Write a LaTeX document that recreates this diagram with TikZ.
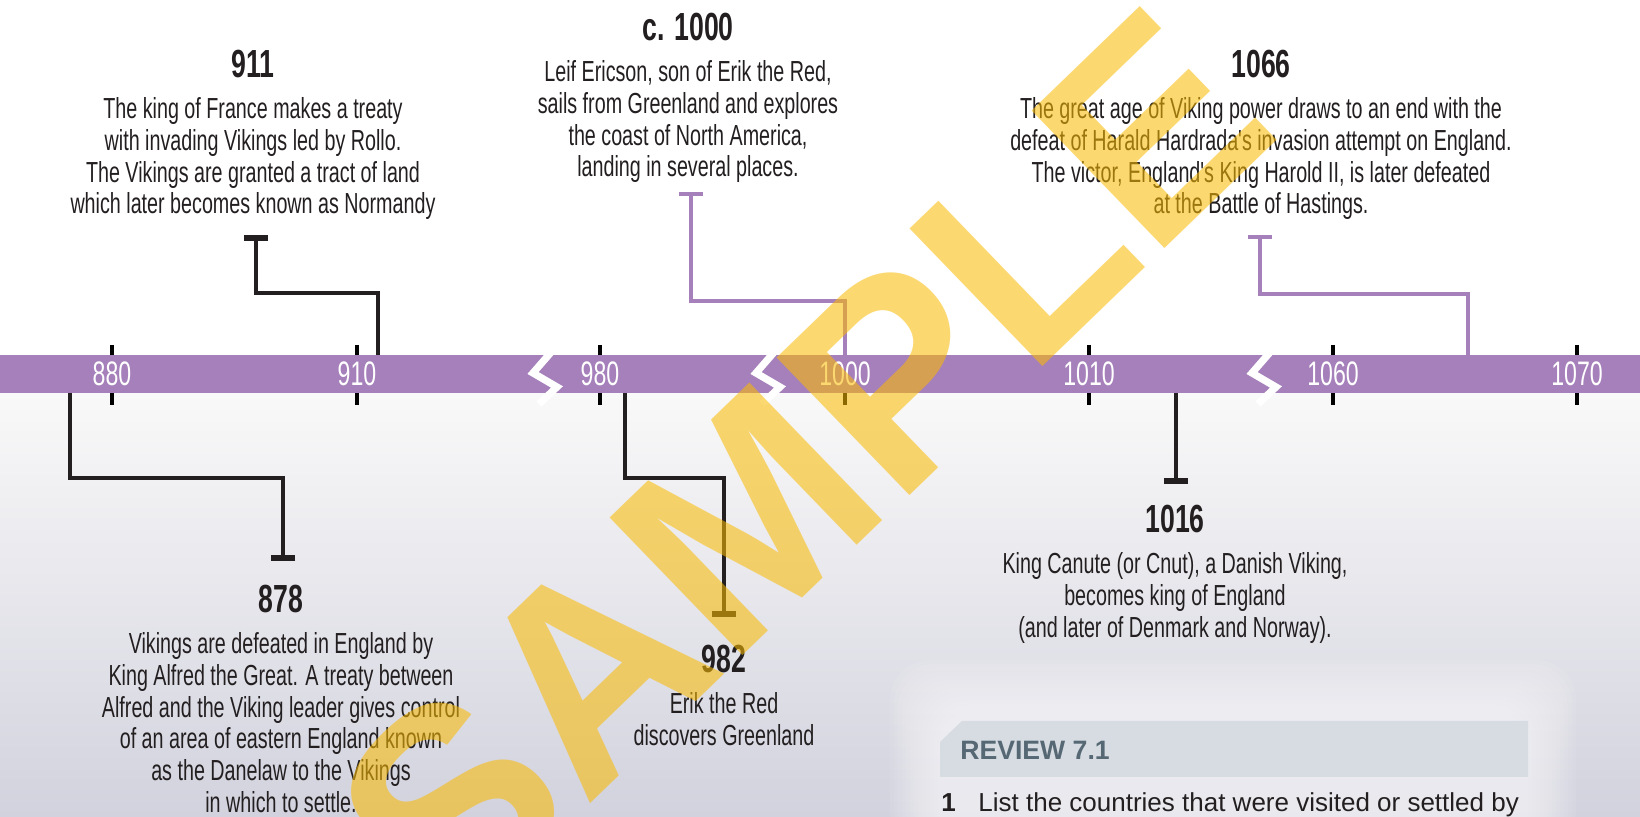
\documentclass[tikz,border=0pt]{standalone}
\usepackage{fontspec}
\setmainfont{Liberation Sans}
\newfontfamily\narrowfont{Liberation Sans}[FakeStretch=0.68]
\usetikzlibrary{positioning,arrows.meta}

\definecolor{barpurple}{RGB}{166,128,186}
\definecolor{inkblack}{RGB}{35,31,32}
\definecolor{reviewfill}{RGB}{214,220,226}
\definecolor{reviewink}{RGB}{86,104,116}
\definecolor{stampyellow}{RGB}{250,186,0}
\definecolor{groundtop}{RGB}{249,249,249}
\definecolor{groundbot}{RGB}{210,210,222}

\begin{document}
\begin{tikzpicture}[x=0.5pt, y=-0.5pt, node distance=9.5pt,
	yr/.style={font=\narrowfont\bfseries\fontsize{19.6}{20}\selectfont, text=inkblack, inner sep=0pt},
	txt/.style={font=\narrowfont\fontsize{14.5}{15.85}\selectfont, text=inkblack, align=center, inner sep=0pt},
	lbl/.style={font=\narrowfont\fontsize{17}{17}\selectfont, text=white, inner sep=0pt},
	tick/.style={draw=black, line width=2.3pt},
	brk/.style={draw=white, line width=3.6pt},
	lk/.style={draw=inkblack, line width=2.2pt, -{Bar[width=12pt,line width=3pt]}},
	lp/.style={draw=barpurple, line width=1.6pt, -{Bar[width=12pt,line width=2pt]}},
	stamp/.style={font=\bfseries\fontsize{139}{139}\selectfont, text=stampyellow, text opacity=0.56, rotate=44, inner sep=0pt}]
		\useasboundingbox (0,0) rectangle (1640,817);
		\fill[white] (0,0) rectangle (1640,393);
		\shade[top color=groundtop, bottom color=groundbot] (0,393) rectangle (1640,817);
		\foreach \g in {0,4,...,48}
			\fill[white, opacity=0.07, rounded corners=20pt] (890+\g,660+\g) rectangle (1576-\g,850);

		\foreach \x/\yr in {112/880,357/910,600/980,845/1000,1089/1010,1333/1060,1577/1070}
			\draw[tick] (\x,345) -- (\x,405);
		\fill[barpurple] (0,355) rectangle (1640,393);
		\foreach \x/\yr in {112/880,357/910,600/980,845/1000,1089/1010,1333/1060,1577/1070}
			\node[lbl] (lab\yr) at (\x,374) {\yr};
		\foreach \c in {545,768,1264}
			\draw[brk] (\c+8,350) -- (\c-12,373) -- (\c+12,387) -- (\c-6,404);

		\node[yr] (y911) at (253,64) {911};
		\node[txt, below=of y911] (d911) {The king of France makes a treaty\\with invading Vikings led by Rollo.\\The Vikings are granted a tract of land\\which later becomes known as Normandy};
		\node[yr] (y1000) at (688,27) {c. 1000};
		\node[txt, below=of y1000] (d1000) {Leif Ericson, son of Erik the Red,\\sails from Greenland and explores\\the coast of North America,\\landing in several places.};
		\node[yr] (y1066) at (1261,64) {1066};
		\node[txt, below=of y1066] (d1066) {The great age of Viking power draws to an end with the\\defeat of Harald Hardrada's invasion attempt on England.\\The victor, England's King Harold II, is later defeated\\at the Battle of Hastings.};
		\node[yr] (y878) at (281,599) {878};
		\node[txt, below=of y878] (d878) {Vikings are defeated in England by\\King Alfred the Great. A treaty between\\Alfred and the Viking leader gives control\\of an area of eastern England known\\as the Danelaw to the Vikings\\in which to settle.};
		\node[yr] (y982) at (724,659) {982};
		\node[txt, below=of y982] (d982) {Erik the Red\\discovers Greenland};
		\node[yr] (y1016) at (1175,519) {1016};
		\node[txt, below=of y1016] (d1016) {King Canute (or Cnut), a Danish Viking,\\becomes king of England\\(and later of Denmark and Norway).};

		\coordinate (b911) at (378,355); \coordinate (k911) at (256,293); \coordinate (e911) at (256,235);
		\coordinate (b1000) at (845,355); \coordinate (k1000) at (691,301); \coordinate (e1000) at (691,192);
		\coordinate (b1066) at (1468,355); \coordinate (k1066) at (1260,294); \coordinate (e1066) at (1260,235);
		\coordinate (b878) at (70,393); \coordinate (k878) at (283,478); \coordinate (e878) at (283,561);
		\coordinate (b982) at (625,393); \coordinate (k982) at (724,478); \coordinate (e982) at (724,617);
		\coordinate (b1016) at (1176,393); \coordinate (e1016) at (1176,484);
		\draw[lk] (b911) |- (k911) -- (e911);
		\draw[lp] (b1000) |- (k1000) -- (e1000);
		\draw[lp] (b1066) |- (k1066) -- (e1066);
		\draw[lk] (b878) |- (k878) -- (e878);
		\draw[lk] (b982) |- (k982) -- (e982);
		\draw[lk] (b1016) -- (e1016);

		\fill[reviewfill] (940,742) -- (962,721) -- (1528,721) -- (1528,777) -- (940,777) -- cycle;
		\node[anchor=west, inner sep=0pt, text=reviewink, font=\bfseries\fontsize{13.3}{14}\selectfont] (rev) at (960,750) {REVIEW 7.1};
		\node[anchor=base west, inner sep=0pt, text=inkblack, font=\bfseries\fontsize{13}{14}\selectfont] (q1) at (941,812) {1};
		\node[anchor=base west, inner sep=0pt, text=inkblack, font=\fontsize{13}{14}\selectfont] (q1txt) at (978,812) {List the countries that were visited or settled by};

		\node[stamp] (wm) at (802,466) {SAMPLE};
	\end{tikzpicture}
\end{document}
